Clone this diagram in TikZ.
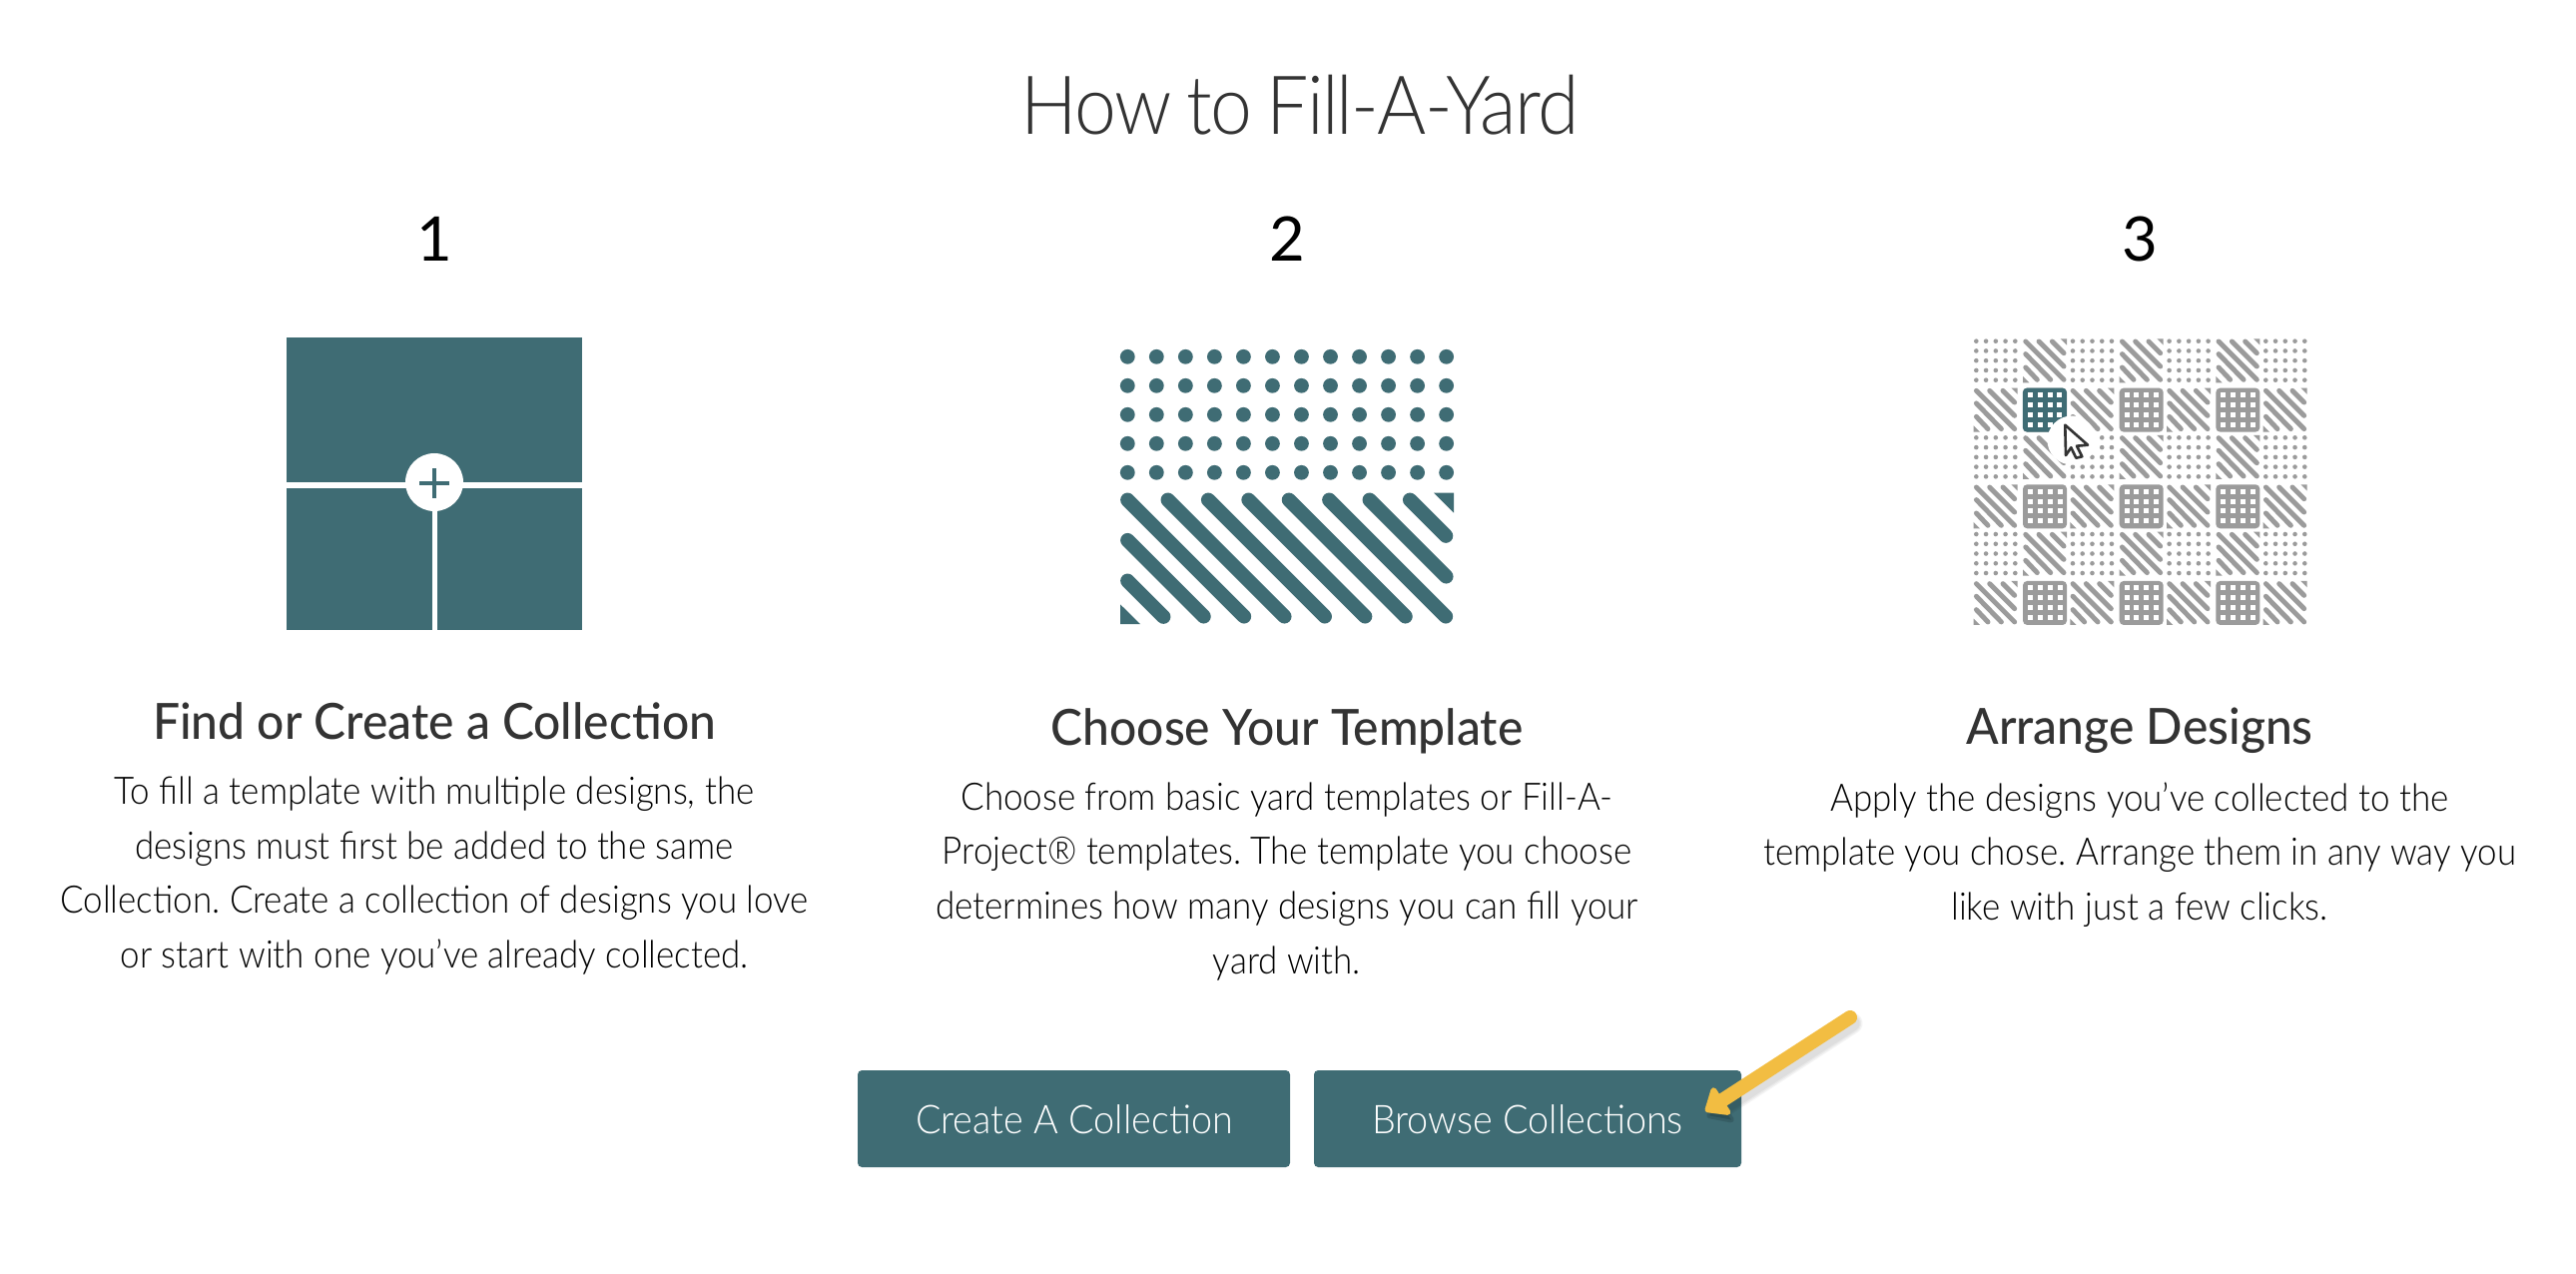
\documentclass[tikz,border=0pt]{standalone}
\usepackage{fontspec}
\setmainfont{Lato}
\newfontfamily\titlefont[FakeStretch=0.92,LetterSpace=-2.2,WordSpace=0.8]{Lato Light}
\newfontfamily\bodyfont[FakeStretch=0.92]{Lato Light}
\newfontfamily\btnfont[FakeStretch=0.95]{Lato Light}
\newfontfamily\headfont[FakeStretch=0.96]{Lato Medium}
\usetikzlibrary{arrows.meta}
\definecolor{tealbox}{HTML}{3F6C74}
\definecolor{greybox}{HTML}{9B9B9B}
\definecolor{yellowarrow}{HTML}{F2BD42}
\definecolor{darktext}{HTML}{333333}
\tikzset{
	titletext/.style={font=\titlefont\fontsize{23.2}{29}\selectfont,text=darktext,inner sep=0pt},
	numtext/.style={font=\fontsize{17.5}{21}\selectfont,text=black,inner sep=0pt},
	headtext/.style={font=\headfont\fontsize{14.2}{17}\selectfont,text=darktext,inner sep=0pt},
	bodytext/.style={font=\bodyfont\frenchspacing\fontsize{10.8}{15.52}\selectfont,text=black,align=center,inner sep=0pt},
	btn/.style={draw=none,fill=tealbox,rounded corners=1.2pt},
	btntext/.style={font=\btnfont\fontsize{11.3}{14}\selectfont,text=white,inner sep=0pt},
}
\newcommand{\dottile}{
	\foreach \i in {0,...,4} \foreach \j in {0,...,4}
		\fill[greybox] (2.6+9.75*\i,2.4+9.75*\j) circle (2.3);
}
\newcommand{\stripetile}{
	\fill[greybox] (37.7,0) -- (44,0) -- (44,6.3) -- cycle (0,37.7) -- (0,44) -- (6.3,44) -- cycle;
	\foreach \a/\b/\c/\d in {2.7/2.7/41/41,16/2.7/41/27.7,29.3/2.7/41/14.4,2.7/15.3/27.7/41,2.7/28.7/14.3/41}
		\draw[greybox,line width=1.4pt,line cap=round] (\a,\b) -- (\c,\d);
}
\newcommand{\gridtile}[1]{
	\fill[#1,rounded corners=1.2pt] (0,0) rectangle (44,44);
	\foreach \i in {0,...,3} \foreach \j in {0,...,3}
		\fill[white] (4.8+9.9*\i,4.4+9.9*\j) rectangle ++(5,5);
}

\begin{document}
\begin{tikzpicture}[x=0.01cm,y=-0.01cm]
	\useasboundingbox (0,0) rectangle (2580,1276);
	\fill[white] (0,0) rectangle (2580,1276);

	\node[titletext] (title) at (1302,105) {How to Fill-A-Yard};
	\node[numtext] (numone) at (435,239) {1};
	\node[numtext] (numtwo) at (1289,239) {2};
	\node[numtext] (numthree) at (2143,239) {3};

	\begin{scope}
		\fill[tealbox] (286.5,338) rectangle (583,631);
		\fill[white] (286.5,483) rectangle (583,489);
		\fill[white] (433,483) rectangle (438,631);
		\fill[white] (435,483) circle (29);
		\fill[tealbox] (420,481.6) rectangle (450,485.8);
		\fill[tealbox] (432.9,469) rectangle (437.1,499);
	\end{scope}

	\begin{scope}
		\foreach \i in {0,...,11} \foreach \j in {0,...,4}
			\fill[tealbox] (1129.3+29.03*\i,357.3+29*\j) circle (7.4);
		\foreach \x/\y/\len in {0/0/116.7,40.4/0/116.7,80.8/0/116.7,121.2/0/116.7,161.6/0/116.7,202/0/116.7,242.4/0/76.7,282.8/0/36,0/40.4/76.3,0/81/36}
			\draw[tealbox,line width=4.07pt,line cap=round] (1129.3+\x,500.7+\y) -- ++(\len,\len);
		\fill[tealbox] (1122,605.3) -- (1122,625) -- (1142,625) -- cycle;
		\fill[tealbox] (1436,493.7) -- (1456,493.7) -- (1456,513.7) -- cycle;
	\end{scope}

	\foreach \col in {0,...,6} \foreach \row in {0,...,5} {
		\pgfmathsetmacro\tilex{1976.7+48.33*\col+mod(\col,2)}
		\pgfmathsetmacro\tiley{339.3+48.33*\row+mod(\row,2)}
		\pgfmathtruncatemacro\kind{mod(\row,2)+2*mod(\col,2)}
		\begin{scope}[shift={(\tilex,\tiley)}]
			\ifcase\kind \dottile \or \stripetile \or \stripetile \or \gridtile{greybox} \fi
		\end{scope}
	}
	\begin{scope}[shift={(2025.9,388.6)}]
		\gridtile{tealbox}
	\end{scope}
	\fill[white] (2075,441) circle (24.5);
	\draw[darktext,fill=white,line width=0.75pt,line join=round] (2068.3,425.7) -- (2091,445.7) -- (2080,446.7) -- (2085.3,457.3) -- (2079.3,458.7) -- (2074.3,448.3) -- (2069,456) -- cycle;

	\node[headtext] (headone) at (435,722) {Find or Create a Collection};
	\node[headtext] (headtwo) at (1289,732) {Choose Your Template};
	\node[headtext] (headthree) at (2143,732) {Arrange Designs};

	\node[bodytext,anchor=north] (bodyone) at (435,777.5) {To fill a template with multiple designs, the\\designs must first be added to the same\\Collection. Create a collection of designs you love\\or start with one you’ve already collected.};
	\node[bodytext,anchor=north] (bodytwo) at (1289,783) {Choose from basic yard templates or Fill-A-\\Project® templates. The template you choose\\determines how many designs you can fill your\\yard with.};
	\node[bodytext,anchor=north] (bodythree) at (2143,783) {Apply the designs you’ve collected to the\\template you chose. Arrange them in any way you\\like with just a few clicks.};

	\draw[btn] (859,1072) rectangle (1292,1169);
	\draw[btn] (1316,1072) rectangle (1744,1169);
	\node[btntext] (btncreate) at (1076,1121) {Create A Collection};
	\node[btntext] (btnbrowse) at (1530,1121) {Browse Collections};

	\coordinate (arrowstart) at (1853,1019);
	\coordinate (arrowtip) at (1708,1113);
	\foreach \w in {6,5.2,4.4} {
		\draw[black,opacity=0.045,line width=\w pt,line cap=round,-{Triangle[length=6.5pt,width=12pt,round]}] ([shift={(2,6)}]arrowstart) -- ([shift={(2,6)}]arrowtip);
	}
	\draw[yellowarrow,fill=yellowarrow,line width=4pt,line cap=round,-{Triangle[length=6.5pt,width=10.5pt,round]}] (arrowstart) -- (arrowtip);
\end{tikzpicture}
\end{document}
